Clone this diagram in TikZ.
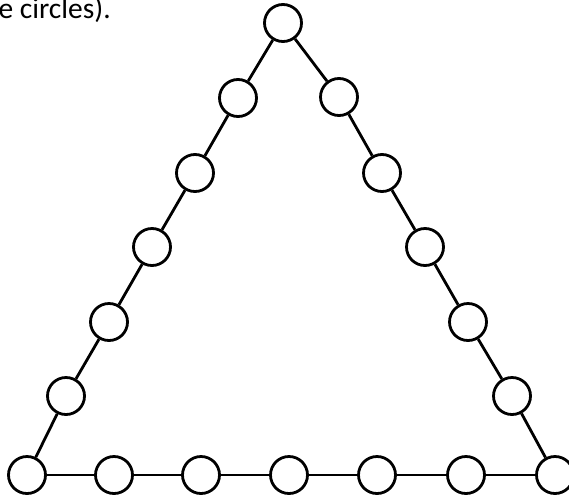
\documentclass[tikz,border=0pt]{standalone}
\usepackage{fontspec}
\setmainfont{Carlito}
\begin{document}
\begin{tikzpicture}[x=1pt,y=-1pt,
  ball/.style={circle,draw=black,line width=2.8pt,fill=white,minimum size=37pt,inner sep=0pt},
  link/.style={line width=2.8pt,black}]
\useasboundingbox (0,0) rectangle (569,498);
\clip (0,0) rectangle (569,498);
\node[anchor=base east,inner sep=0pt,font=\fontsize{29.5}{32}\selectfont] (txt) at (111,18) {e circles).};
% left side
\node[ball] (t) at (283,23) {};
\node[ball] (l1) at (238,98) {};
\node[ball] (l2) at (195,173) {};
\node[ball] (l3) at (152,247) {};
\node[ball] (l4) at (109,322) {};
\node[ball] (l5) at (66,396) {};
\node[ball] (bl) at (27,475) {};
% right side
\node[ball] (r1) at (339,97) {};
\node[ball] (r2) at (382,173) {};
\node[ball] (r3) at (425,247) {};
\node[ball] (r4) at (468,322) {};
\node[ball] (r5) at (512,396) {};
\node[ball] (br) at (555,475) {};
% bottom
\node[ball] (b1) at (114,475) {};
\node[ball] (b2) at (201,475) {};
\node[ball] (b3) at (289,475) {};
\node[ball] (b4) at (377,475) {};
\node[ball] (b5) at (466,475) {};
\draw[link] (t) -- (l1) (l1) -- (l2) (l2) -- (l3) (l3) -- (l4) (l4) -- (l5) (l5) -- (bl);
\draw[link] (t) -- (r1) (r1) -- (r2) (r2) -- (r3) (r3) -- (r4) (r4) -- (r5) (r5) -- (br);
\draw[link] (bl) -- (b1) (b1) -- (b2) (b2) -- (b3) (b3) -- (b4) (b4) -- (b5) (b5) -- (br);
\end{tikzpicture}
\end{document}
